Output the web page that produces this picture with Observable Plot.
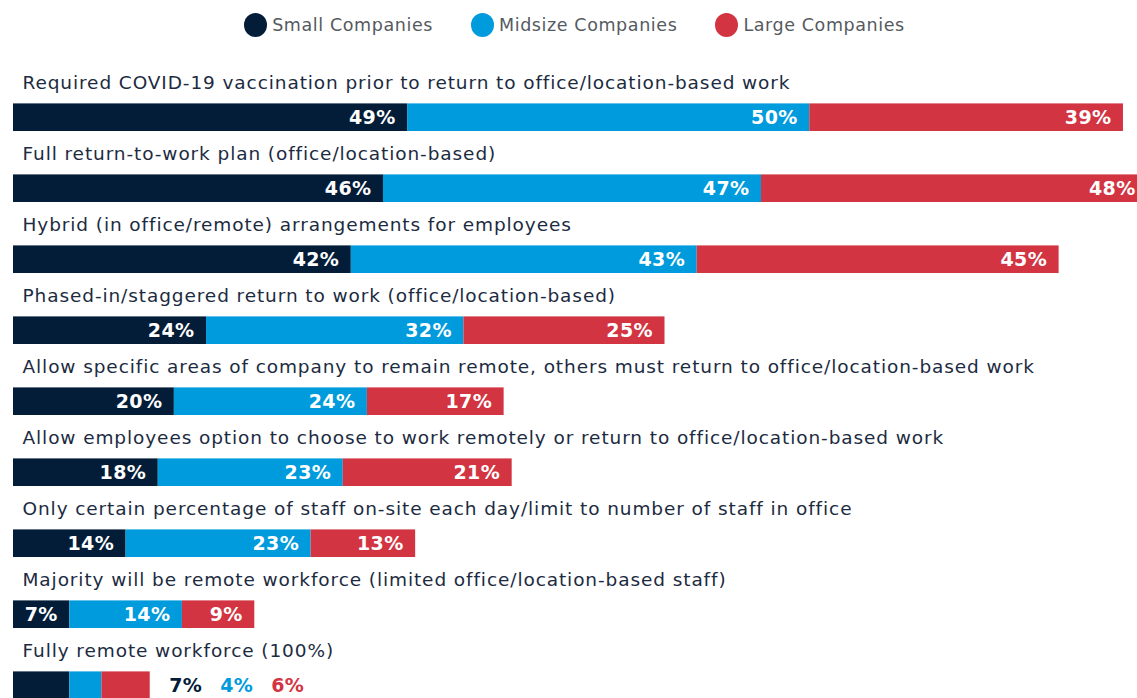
<!DOCTYPE html>
<html><head><meta charset="utf-8">
<script src="https://cdn.jsdelivr.net/npm/d3@7"></script>
<script src="https://cdn.jsdelivr.net/npm/@observablehq/plot@0.6"></script>
<style>
html,body{margin:0;padding:0;overflow:hidden;background:#fff;width:1137px;height:698px;}
#legend{height:50px;display:flex;justify-content:center;align-items:center;font-family:"DejaVu Sans",sans-serif;font-size:17.5px;letter-spacing:0.6px;color:#555a60;padding-left:12px;box-sizing:border-box;}
.item{display:flex;align-items:center;margin:0 19px;}
.dot{width:23px;height:24px;border-radius:50%;margin-right:5px;}
#chart svg{overflow:visible;}
g[aria-description="category-labels"] text{letter-spacing:0.9px;}
g[aria-description="value-labels"] text, g[aria-description="outside-labels"] text{letter-spacing:0.4px;}
</style></head><body>
<div id="legend"></div><div id="chart"></div>
<script>
const categories = [
  "Required COVID-19 vaccination prior to return to office/location-based work",
  "Full return-to-work plan (office/location-based)",
  "Hybrid (in office/remote) arrangements for employees",
  "Phased-in/staggered return to work (office/location-based)",
  "Allow specific areas of company to remain remote, others must return to office/location-based work",
  "Allow employees option to choose to work remotely or return to office/location-based work",
  "Only certain percentage of staff on-site each day/limit to number of staff in office",
  "Majority will be remote workforce (limited office/location-based staff)",
  "Fully remote workforce (100%)"
];
const series = ["Small Companies", "Midsize Companies", "Large Companies"];
const small   = [49, 46, 42, 24, 20, 18, 14, 7, 7];
const midsize = [50, 47, 43, 32, 24, 23, 23, 14, 4];
const large   = [39, 48, 45, 25, 17, 21, 13, 9, 6];
const colors = ["#031d38", "#009bdc", "#d23442"];

const seriesValues = [small, midsize, large];
const table = [];
categories.forEach((c, i) => {
  series.forEach((s, j) => {
    table.push({category: c, series: s, value: seriesValues[j][i], inside: i < categories.length - 1, idx: i});
  });
});
const lastCat = categories[categories.length - 1];

// legend
const legend = document.getElementById("legend");
series.forEach((s, j) => {
  const it = document.createElement("div"); it.className = "item";
  const d = document.createElement("span"); d.className = "dot"; d.style.background = colors[j];
  const t = document.createElement("span"); t.textContent = s;
  it.appendChild(d); it.appendChild(t); legend.appendChild(it);
});

const font = "DejaVu Sans, sans-serif";
const outsideMarks = series.map((s, j) =>
  Plot.text(table.filter(d => d.category === lastCat), {
    filter: d => d.series === s,
    x: d => small[d.idx] + midsize[d.idx] + large[d.idx],
    y: "category",
    text: d => d.value + "%",
    textAnchor: "start",
    dx: [19, 70, 121][j],
    dy: 21.7,
    fill: colors[j],
    fontSize: 19,
    fontWeight: "bold",
    fontFamily: font,
    ariaDescription: "outside-labels"
  })
);

const chart = Plot.plot({
  width: 1137,
  height: 651,
  marginTop: 8,
  marginBottom: 0,
  marginLeft: 13,
  marginRight: 6,
  x: {domain: [0, 139], axis: null},
  y: {domain: categories, axis: null, padding: 0},
  color: {domain: series, range: colors},
  style: {fontFamily: font, background: "white"},
  marks: [
    Plot.barX(table, {x: "value", y: "category", fill: "series", insetTop: 43.4, insetBottom: 0}),
    Plot.text(categories, {
      x: 0, y: d => d, text: d => d, textAnchor: "start", dx: 9, dy: -12.7,
      fill: "#1c2b3f", fontSize: 18.5, fontFamily: font, ariaDescription: "category-labels"
    }),
    Plot.text(table.filter(d => d.inside), Plot.stackX2({
      x: "value", y: "category", z: "series",
      text: d => d.value + "%", textAnchor: "end", dx: -12, dy: 21.7,
      fill: "white", fontSize: 19, fontWeight: "bold", fontFamily: font, ariaDescription: "value-labels"
    })),
    ...outsideMarks
  ]
});
document.getElementById("chart").appendChild(chart);
</script>
</body></html>
